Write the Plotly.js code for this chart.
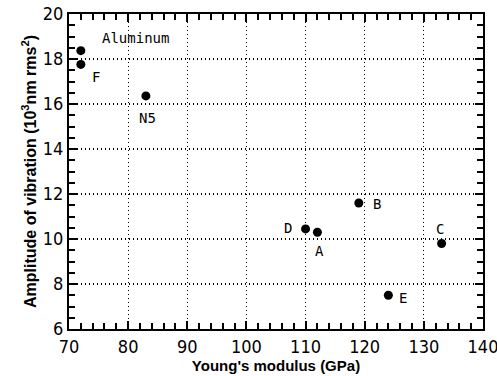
<!DOCTYPE html>
<html><head><meta charset="utf-8">
<script src="https://cdn.plot.ly/plotly-3.0.1.min.js"></script>
<style>body{margin:0;background:#fff}#c{width:497px;height:376px}</style>
</head><body><div id="c"></div>
<script>
const names = ["Aluminum","F","N5","D","A","B","C","E"];
const modulus = [72.0, 72.0, 83.0, 110.0, 112.0, 119.0, 133.0, 124.0];
const amplitude = [18.37, 17.76, 16.36, 10.45, 10.3, 11.6, 9.8, 7.5];
const labelX = [75.2, 74.6, 83.2, 107.1, 112.3, 122.0, 132.7, 126.5];
const labelY = [18.93, 17.2, 15.4, 10.5, 9.45, 11.55, 10.45, 7.4];
const labelAnchor = ["left","center","center","center","center","center","center","center"];

const annFont = {family:"DejaVu Sans Mono, monospace", size:14, color:"#000"};
const annotations = names.map((n,i)=>({
  x: labelX[i], y: labelY[i], text: n, showarrow:false, xanchor: labelAnchor[i], font: annFont
}));

const tickFont = {family:"Liberation Sans Narrow, DejaVu Sans Condensed, sans-serif", size:18, color:"#000"};
const titleFont = {family:"Liberation Sans, sans-serif", size:15, color:"#000", weight:"bold"};
const common = {ticks:"inside", ticklen:8, tickcolor:"#000", tickwidth:2,
  showline:true, linecolor:"#000", linewidth:2, mirror:"ticks", zeroline:false,
  ticklabeloverflow:"allow"};
const layout = {
  width:497, height:376,
  margin:{l:69, r:14, t:14, b:47},
  paper_bgcolor:"#fff", plot_bgcolor:"#fff",
  showlegend:false,
  xaxis:Object.assign({}, common, {range:[70,140], dtick:10, tick0:70,
    showgrid:true, gridcolor:"#000", griddash:"1px,3px", gridwidth:1.2,
    tickfont:tickFont,
    title:{text:"Young's modulus (GPa)", font:titleFont, standoff:0}}),
  yaxis:Object.assign({}, common, {range:[6,20], dtick:2, tick0:6,
    showgrid:true, gridcolor:"#000", griddash:"1px,3px", gridwidth:1.2,
    tickfont:tickFont,
    title:{text:"Amplitude of vibration (10<sup>3</sup>nm rms<sup>2</sup>)", font:Object.assign({}, titleFont, {size:16}), standoff:2}}),
  xaxis2:Object.assign({}, common, {overlaying:"x", anchor:"y2", side:"bottom", range:[70,140], dtick:2, tick0:70, ticklen:6, tickwidth:2,
    showticklabels:false, showgrid:false}),
  yaxis2:Object.assign({}, common, {overlaying:"y", anchor:"x2", side:"left", range:[6,20], dtick:0.5, tick0:6, ticklen:6, tickwidth:2,
    showticklabels:false, showgrid:false}),
  annotations: annotations
};
Plotly.newPlot("c", [
  {x: [70], y: [6], xaxis:"x2", yaxis:"y2", mode:"markers", marker:{opacity:0}, hoverinfo:"skip"},
  {x: modulus, y: amplitude, mode:"markers", type:"scatter", marker:{color:"#000", size:9}}
], layout, {displayModeBar:false, staticPlot:true});
</script></body></html>
